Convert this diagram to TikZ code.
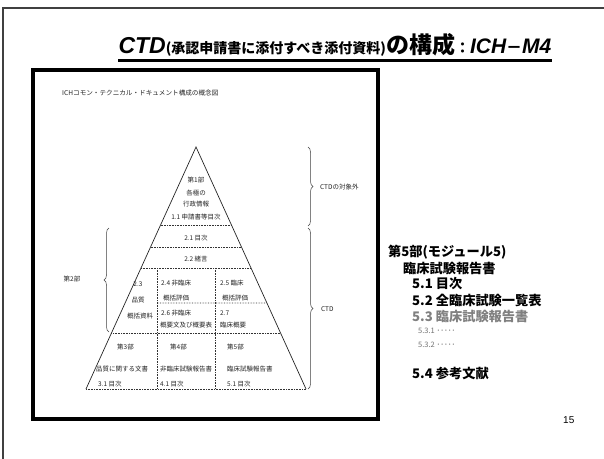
\documentclass[tikz,border=0pt]{standalone}
\usepackage{fontspec}
\setmainfont{Liberation Sans}
\newfontfamily\cjk{Noto Sans CJK JP}
\usetikzlibrary{calc,decorations.pathreplacing}
\begin{document}
\begin{tikzpicture}[x=1pt,y=-1pt,
  ptxt/.style={font=\cjk\fontsize{6.5}{7.5}\selectfont, text=black!85, inner sep=0},
  ptl/.style={ptxt, anchor=west},
  dotl/.style={densely dotted, line width=0.6pt, black!80},
  side/.style={line width=0.7pt, black!85},
  bracel/.style={decorate, decoration={brace, amplitude=5pt}, line width=0.5pt, black!75},
  rtxt/.style={anchor=west, inner sep=0, font=\cjk\bfseries\fontsize{13.2}{13.2}\selectfont},
  stxt/.style={anchor=west, inner sep=0, text=black!55, font=\cjk\fontsize{7.5}{8}\selectfont}
]
\useasboundingbox (0,0) rectangle (604,458);
\fill[white] (0,0) rectangle (604,458);
% slide frame
\draw[line width=1.2pt, black!75] (3,8) rectangle (640,480);
% title
\node[inner sep=0, anchor=base] (title) at (335,53) {{\bfseries\itshape\fontsize{23}{23}\selectfont CTD}{\cjk\bfseries\fontsize{14}{14}\selectfont (承認申請書に添付すべき添付資料)}{\cjk\bfseries\fontsize{23}{23}\selectfont の構成}{\cjk\bfseries\fontsize{15}{15}\selectfont ：}{\bfseries\itshape\fontsize{21}{21}\selectfont ICH}{\cjk\bfseries\fontsize{16}{16}\selectfont －}{\bfseries\itshape\fontsize{21}{21}\selectfont M4}};
\draw[line width=2.4pt] ([yshift=-7.5pt]title.base west) -- ([yshift=-7.5pt]title.base east);
% inner frame
\draw[line width=4.5pt] (33,70) rectangle (378,419);
\node[ptl, font=\cjk\fontsize{6.6}{7.5}\selectfont] (cap) at (62,93) {ICHコモン・テクニカル・ドキュメント構成の概念図};
% pyramid
\coordinate (A) at (196,147);
\coordinate (BL) at (86,389);
\coordinate (BR) at (306,389);
\draw[side] (BL) -- (A) -- (BR);
\draw[dotl] (BL) -- (BR);
\foreach \t in {0.3223,0.4132,0.5,0.7686} {
  \draw[dotl] ($(A)!\t!(BL)$) -- ($(A)!\t!(BR)$);
}
\draw[dotl] (157,268) -- (157,389);
\draw[dotl] (215,268) -- (215,389);
\draw[dotl] (157,303) -- ($(A)!0.6446!(BR)$);
% pyramid texts
\node[ptxt] (p1) at (196,180) {第1部};
\node[ptxt] (p1a) at (196,193) {各極の};
\node[ptxt] (p1b) at (196,204) {行政情報};
\node[ptxt] (p11) at (196,217) {1.1 申請書等目次};
\node[ptxt] (p21) at (196,238) {2.1 目次};
\node[ptxt] (p22) at (196,259) {2.2 緒言};
\node[ptxt] (p23) at (138,284) {2.3};
\node[ptxt] (p23a) at (138,300) {品質};
\node[ptxt] (p23b) at (140,316) {概括資料};
\node[ptl] (p24) at (161,283) {2.4 非臨床};
\node[ptl] (p24a) at (163,298) {概括評価};
\node[ptl] (p25) at (220,283) {2.5 臨床};
\node[ptl] (p25a) at (222,298) {概括評価};
\node[ptl] (p26) at (161,313) {2.6 非臨床};
\node[ptl] (p26a) at (160,325) {概要文及び概要表};
\node[ptl] (p27) at (220,313) {2.7};
\node[ptl] (p27a) at (220,325) {臨床概要};
\node[ptl] (p3) at (117,347) {第3部};
\node[ptl] (p4) at (170,347) {第4部};
\node[ptl] (p5) at (227,347) {第5部};
\node[ptl] (p3a) at (96,369) {品質に関する文書};
\node[ptl] (p4a) at (160,369) {非臨床試験報告書};
\node[ptl] (p5a) at (227,369) {臨床試験報告書};
\node[ptl] (p31) at (98,384) {3.1 目次};
\node[ptl] (p41) at (160,384) {4.1 目次};
\node[ptl] (p51) at (227,384) {5.1 目次};
% braces
\draw[bracel] (308,147) -- (308,226);
\node[ptl] (bx) at (320,187) {CTDの対象外};
\draw[bracel] (308,228) -- (308,389);
\node[ptl] (bc) at (321,309) {CTD};
\draw[bracel] (109,332) -- (109,228);
\node[ptxt] (b2) at (72,279) {第2部};
% right side list
\node[rtxt] (m5) at (388,252) {第5部(モジュール5)};
\node[rtxt] (m5a) at (403,268) {臨床試験報告書};
\node[rtxt] (m51) at (412,284) {5.1 目次};
\node[rtxt] (m52) at (412,300) {5.2 全臨床試験一覧表};
\node[rtxt, text=black!50] (m53) at (412,316) {5.3 臨床試験報告書};
\node[stxt] (m531) at (418,331) {5.3.1 ･････};
\node[stxt] (m532) at (418,345) {5.3.2 ･････};
\node[rtxt] (m54) at (412,373) {5.4 参考文献};
\node[anchor=west, inner sep=0, font=\fontsize{10}{10}\selectfont] (pg) at (563,420) {15};
\end{tikzpicture}
\end{document}
